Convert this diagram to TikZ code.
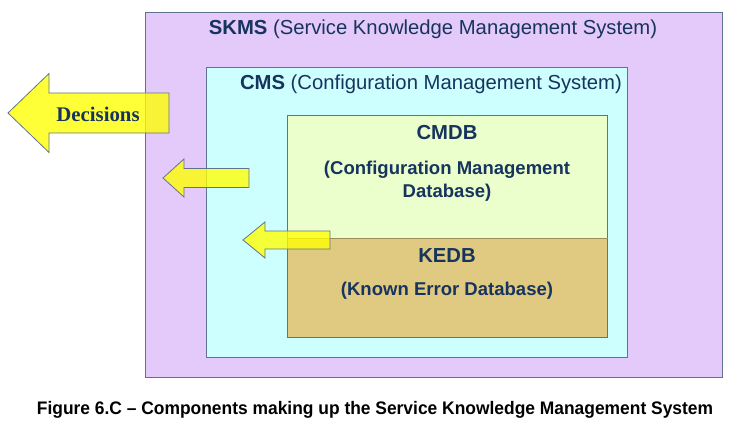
\documentclass[tikz,border=0pt]{standalone}
\usepackage{fontspec}
\setmainfont{Liberation Sans}
\newfontfamily\serifdec{Liberation Serif}
\usepackage{tikz}
\usetikzlibrary{calc, positioning}
\definecolor{skmsfill}{RGB}{228,202,250}
\definecolor{cmsfill}{RGB}{206,255,255}
\definecolor{cmdbfill}{RGB}{235,255,205}
\definecolor{kedbfill}{RGB}{224,202,130}
\definecolor{edgeblue}{RGB}{95,115,145}
\definecolor{navytext}{RGB}{23,52,94}
\definecolor{arrowyellow}{RGB}{255,255,0}
\tikzset{
    boxnode/.style = {draw=edgeblue, line width=0.6pt, rectangle, inner sep=0pt, anchor=north west},
    titlenode/.style = {draw=none, fill=none, inner sep=0pt, text=navytext, font=\fontsize{15.2}{18}\selectfont},
    dbnode/.style = {draw=none, fill=none, inner sep=0pt, text=navytext, align=center,
      font=\fontsize{13.9}{17}\selectfont\bfseries},
    dbtitle/.style = {dbnode, font=\fontsize{15.2}{17}\selectfont\bfseries},
    arrowshape/.style = {draw=edgeblue, line width=0.6pt, fill=arrowyellow, fill opacity=0.78, line join=miter},
    every text node part/.style={align=center}
}
% block arrow pointing left: tip x, mid y, head x, tail x, shaft half, head half
\newcommand{\leftblockarrow}[6]{%
  \draw[arrowshape] (#1,#2) -- (#3,#2-#6) -- (#3,#2-#5) -- (#4,#2-#5)
    -- (#4,#2+#5) -- (#3,#2+#5) -- (#3,#2+#6) -- cycle;}

\begin{document}
\begin{tikzpicture}[x=0.75pt, y=-0.75pt]
    \useasboundingbox (0,0) rectangle (732,423);

    % nested boxes
    \node [boxnode, name=SKMS, fill=skmsfill, minimum width=577*0.75pt, minimum height=365*0.75pt] at (145,12) {};
    \node [boxnode, name=CMS, fill=cmsfill, minimum width=421*0.75pt, minimum height=290*0.75pt] at (206,67) {};
    \node [boxnode, name=CMDB, fill=cmdbfill, minimum width=320*0.75pt, minimum height=123*0.75pt] at (287,115) {};
    \node [boxnode, name=KEDB, fill=kedbfill, minimum width=320*0.75pt, minimum height=99*0.75pt] at (287,238) {};
    \draw [draw=kedbfill!70!black, line width=0.8pt] (CMDB.south west) -- (CMDB.south east);

    % titles
    \node [titlenode, name=skmstitle] at (433,29) {\textbf{SKMS} (Service Knowledge Management System)};
    \node [titlenode, name=cmstitle] at (431,84) {\textbf{CMS} (Configuration Management System)};
    \node [dbtitle, name=cmdbtitle] at (447,133) {CMDB};
    \node [dbnode, name=cmdbtext] at (447,181.5) {(Configuration Management\\Database)};
    \node [dbtitle, name=kedbtitle] at (447,256) {KEDB};
    \node [dbnode, name=kedbtext] at (447,291) {(Known Error Database)};

    % arrows
    \leftblockarrow{8}{113}{49}{169}{20}{39.5}
    \leftblockarrow{163}{178}{184}{249}{9.5}{19}
    \leftblockarrow{243}{240}{265}{330}{9}{18}
    \node [titlenode, name=decisions, font=\fontsize{15.6}{17}\selectfont\serifdec\bfseries] at (98,114) {Decisions};

    % caption
    \node [titlenode, name=caption, text=black, font=\fontsize{13.6}{16}\selectfont\bfseries] at (375,410)
      {\scalebox{0.96}[1]{Figure 6.C -- Components making up the Service Knowledge Management System}};
\end{tikzpicture}
\end{document}
